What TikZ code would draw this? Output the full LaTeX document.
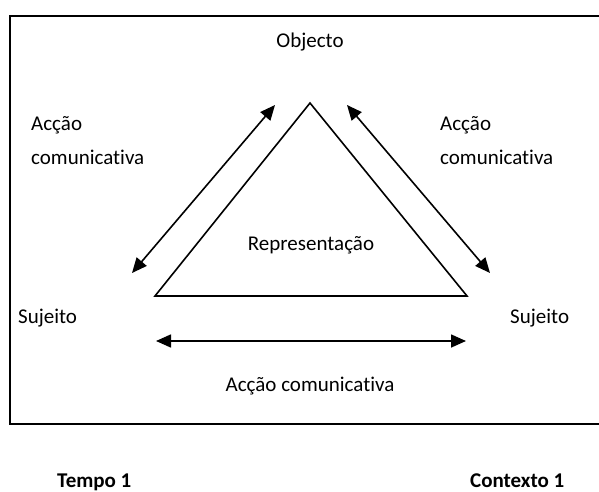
\documentclass[tikz,border=0pt]{standalone}
\usepackage{fontspec}
\setmainfont{Carlito}[Ligatures=NoCommon]
\usetikzlibrary{arrows.meta}
\begin{document}
\begin{tikzpicture}[x=1pt,y=-1pt,
  lbl/.style={font=\fontsize{21}{25}\selectfont, inner sep=0pt, anchor=base},
  lblL/.style={lbl, anchor=base west},
  bold/.style={lbl, anchor=base west, font=\fontsize{21}{25}\selectfont\bfseries},
  dbl/.style={line width=1.6pt, {Triangle[length=15pt,width=13pt]}-{Triangle[length=15pt,width=13pt]}},
  tri/.style={line width=1.6pt, line join=miter}]
\useasboundingbox (0,0) rectangle (599,492);
\begin{scope}
\clip (0,0) rectangle (599,492);
\draw[line width=1.8pt] (605,16) -- (10,16) -- (10,424) -- (605,424);
\end{scope}
\node[lbl] (obj) at (310,48) {Objecto};
\coordinate (A) at (310,103);
\coordinate (B) at (155,296);
\coordinate (C) at (467,296);
\draw[tri] (A) -- (B) -- (C) -- cycle;
\node[lbl] (rep) at (311,250) {Representação};
\node[lblL] (al1) at (31,131) {Acção};
\node[lblL] (al2) at (31,164) {comunicativa};
\node[lblL] (ar1) at (440,131) {Acção};
\node[lblL] (ar2) at (440,164) {comunicativa};
\node[lblL] (sl) at (18,323) {Sujeito};
\node[lblL] (sr) at (510,323) {Sujeito};
\node[lbl] (ab) at (310,391) {Acção comunicativa};
\coordinate (l1) at (275,105);
\coordinate (l2) at (132,273);
\coordinate (r1) at (347,105);
\coordinate (r2) at (490,273);
\coordinate (b1) at (156,341);
\coordinate (b2) at (466,341);
\draw[dbl] (l1) -- (l2);
\draw[dbl] (r1) -- (r2);
\draw[dbl] (b1) -- (b2);
\node[bold] (t1) at (57,487) {Tempo 1};
\node[bold] (c1) at (470,487) {Contexto 1};
\end{tikzpicture}
\end{document}
